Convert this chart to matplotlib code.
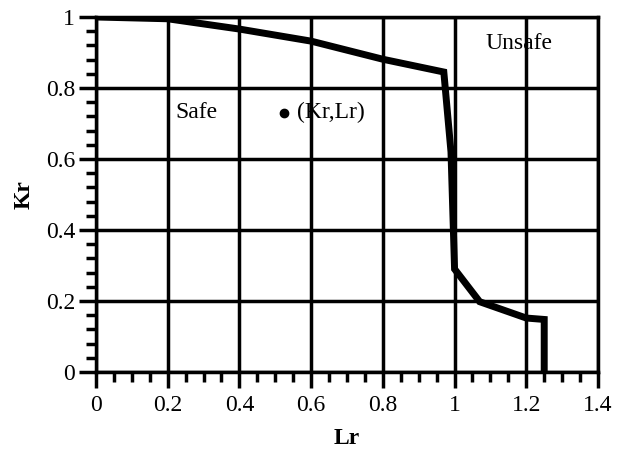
import matplotlib
matplotlib.use("Agg")
import matplotlib.pyplot as plt
import numpy as np

# Failure assessment curve
lr_curve = [0.0, 0.2, 0.4, 0.6, 0.8, 0.97, 0.99, 1.0, 1.07, 1.2, 1.25, 1.25]
kr_curve = [1.0, 0.995, 0.966, 0.932, 0.881, 0.845, 0.62, 0.29, 0.198, 0.152, 0.148, 0.0]

# assessment point
lr_point = [0.524]
kr_point = [0.73]

x_ticks = [0, 0.2, 0.4, 0.6, 0.8, 1.0, 1.2, 1.4]
x_labels = ["0", "0.2", "0.4", "0.6", "0.8", "1", "1.2", "1.4"]
y_ticks = [0, 0.2, 0.4, 0.6, 0.8, 1.0]
y_labels = ["0", "0.2", "0.4", "0.6", "0.8", "1"]

plt.rcParams['font.family'] = ['Liberation Serif', 'DejaVu Serif']

fig = plt.figure(figsize=(6.25, 4.5), dpi=100)
ax = fig.add_axes([96/625, 1 - 372/450, (598-96)/625, (372-17)/450])

ax.plot(lr_curve, kr_curve, color='black', lw=5.0, solid_joinstyle='miter', zorder=3)
ax.plot(lr_point, kr_point, 'o', color='black', ms=6, zorder=3)

ax.set_xlim(0, 1.4)
ax.set_ylim(0, 1.0)
ax.set_xticks(x_ticks)
ax.set_xticklabels(x_labels)
ax.set_yticks(y_ticks)
ax.set_yticklabels(y_labels)
ax.set_xticks(np.arange(0, 1.4001, 0.05), minor=True)
ax.set_yticks(np.arange(0, 1.0001, 0.04), minor=True)
ax.grid(True, which='major', color='black', lw=2.5)
ax.tick_params(axis='x', which='major', direction='out', length=11.5, width=2.5, labelsize=17, pad=5)
ax.tick_params(axis='y', which='major', direction='out', length=12, width=2.5, labelsize=17, pad=3)
ax.tick_params(which='minor', direction='out', length=7, width=2.5)
for s in ax.spines.values():
    s.set_linewidth(2.5)
    s.set_color('black')

ax.set_xlabel("Lr", fontsize=17, fontweight='bold', labelpad=9)
ax.set_ylabel("Kr", fontsize=17, fontweight='bold', labelpad=8)

ax.text(0.28, 0.73, "Safe", fontsize=17, ha='center', va='center')
ax.text(0.56, 0.73, "(Kr,Lr)", fontsize=17, ha='left', va='center')
ax.text(1.18, 0.925, "Unsafe", fontsize=17, ha='center', va='center')

fig.savefig("out.png", dpi=100)
